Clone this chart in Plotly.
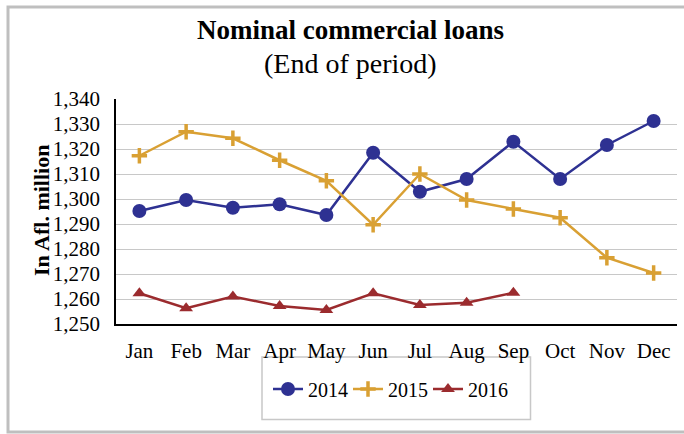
import plotly.graph_objects as go

months = ["Jan", "Feb", "Mar", "Apr", "May", "Jun", "Jul", "Aug", "Sep", "Oct", "Nov", "Dec"]
loans_2014 = [1295.2, 1299.6, 1296.5, 1297.9, 1293.6, 1318.5, 1302.9, 1308.0, 1322.9, 1308.0, 1321.6, 1331.2]
loans_2015 = [1317.3, 1326.9, 1324.3, 1315.5, 1307.3, 1289.7, 1310.0, 1299.6, 1296.0, 1292.5, 1276.5, 1270.4]
loans_2016 = [1262.3, 1256.3, 1261.0, 1257.2, 1255.6, 1262.3, 1257.6, 1258.5, 1262.5]
y_ticks = [1250, 1260, 1270, 1280, 1290, 1300, 1310, 1320, 1330, 1340]

FONT = "Liberation Serif, Times New Roman, serif"
W, H = 684, 434
L, R, T, B = 116, 7, 99, 110
pw, ph = W - L - R, H - T - B

def px(x):
    return (x - L) / pw

def py(y):
    return (H - B - y) / ph

fig = go.Figure()
fig.add_trace(go.Scatter(x=months, y=loans_2014, name="2014", mode="lines+markers",
                         line=dict(color="#2E3192", width=2.5),
                         marker=dict(symbol="circle", size=14, color="#2E3192")))
fig.add_trace(go.Scatter(x=months, y=loans_2015, name="2015", mode="lines+markers",
                         line=dict(color="#D9A033", width=2.5),
                         marker=dict(symbol="cross-thin", size=11, color="#D9A033",
                                     line=dict(color="#D9A033", width=3.5))))
fig.add_trace(go.Scatter(x=months[:len(loans_2016)], y=loans_2016, name="2016", mode="lines+markers",
                         line=dict(color="#9B2B2E", width=2.5),
                         marker=dict(symbol="triangle-up", size=12, color="#9B2B2E")))

fig.update_layout(
    width=W, height=H,
    margin=dict(l=L, r=R, t=T, b=B),
    paper_bgcolor="white", plot_bgcolor="white",
    font=dict(family=FONT, size=20, color="black"),
    showlegend=True,
    legend=dict(orientation="h", x=px(268), xanchor="left", y=py(389), yanchor="middle",
                bgcolor="rgba(0,0,0,0)", borderwidth=0, font=dict(size=20),
                entrywidth=35, entrywidthmode="pixels", itemclick=False),
    xaxis=dict(type="category", range=[-0.5, 11.5], showgrid=False, showline=True,
               linecolor="black", linewidth=1.5, ticks="", ticklabelstandoff=7,
               tickfont=dict(size=21)),
    yaxis=dict(range=[1250, 1340], tickvals=y_ticks, tickformat=",", showgrid=True,
               gridcolor="#C8C8C8", gridwidth=1, showline=True, linecolor="black",
               linewidth=1.5, ticks="", ticklabelstandoff=10, zeroline=False,
               tickfont=dict(size=21)),
    annotations=[
        dict(text="<b>Nominal commercial loans</b>", x=px(350), y=py(30), xref="paper", yref="paper",
             showarrow=False, font=dict(size=27), xanchor="center", yanchor="middle"),
        dict(text="(End of period)", x=px(350), y=py(63), xref="paper", yref="paper",
             showarrow=False, font=dict(size=28), xanchor="center", yanchor="middle"),
        dict(text="<b>In Afl. million</b>", x=px(41), y=py(211), xref="paper", yref="paper",
             showarrow=False, textangle=-90, font=dict(size=22), xanchor="center", yanchor="middle"),
    ],
    shapes=[
        dict(type="rect", xref="paper", yref="paper", x0=px(8), x1=px(760), y0=py(432), y1=py(7),
             line=dict(color="#BFBFBF", width=3), layer="below"),
        dict(type="rect", xref="paper", yref="paper", x0=px(262), x1=px(530.5), y0=py(419.5), y1=py(357),
             line=dict(color="#C8C8C8", width=1.5), layer="below"),
    ],
)

fig.write_html("out.html", config={"displayModeBar": False},
               post_script="document.body.style.margin='0';document.body.style.padding='0';document.body.style.overflow='hidden';")
